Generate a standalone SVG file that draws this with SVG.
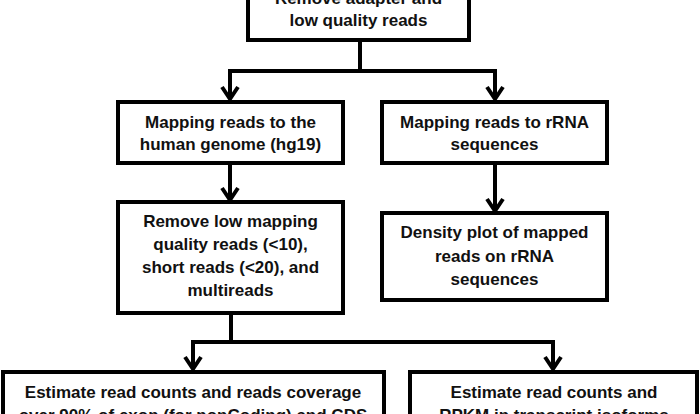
<svg xmlns="http://www.w3.org/2000/svg" width="700" height="414" viewBox="0 0 700 414">
<style>
.box{fill:#fff;stroke:#000;stroke-width:4}
.t{font-family:"Liberation Sans",Arial,sans-serif;font-weight:bold;font-size:17px;fill:#111;text-anchor:middle}
.c{fill:none;stroke:#000;stroke-width:4;stroke-linejoin:miter}
.ah{fill:none;stroke:#000;stroke-width:4;stroke-linejoin:miter}
</style>
<defs>
<path id="arr" class="ah" d="M-8,-13 L0,-1 L8,-13"/>
</defs>
<rect width="700" height="414" fill="#fff"/>
<g id="connectors">
<path class="c" d="M360,40 V71"/>
<path class="c" d="M230,99 V71 H495 V99"/>
<use href="#arr" x="230" y="100"/>
<use href="#arr" x="495" y="100"/>
<path class="c" d="M230,163 V200"/>
<use href="#arr" x="230" y="201"/>
<path class="c" d="M495,163 V211"/>
<use href="#arr" x="495" y="212"/>
<path class="c" d="M231,313 V342"/>
<path class="c" d="M193,369 V342 H553 V369"/>
<use href="#arr" x="193" y="370"/>
<use href="#arr" x="553" y="370"/>
</g>
<g id="n1">
<rect class="box" x="248" y="-30" width="221" height="70"/>
<text class="t" x="358.5" y="4">Remove adapter and</text>
<text class="t" x="358.5" y="26">low quality reads</text>
</g>
<g id="n2">
<rect class="box" x="118" y="102" width="225" height="61"/>
<text class="t" x="230.5" y="128">Mapping reads to the</text>
<text class="t" x="230.5" y="150">human genome (hg19)</text>
</g>
<g id="n3">
<rect class="box" x="382" y="102" width="225" height="61"/>
<text class="t" x="494.5" y="128">Mapping reads to rRNA</text>
<text class="t" x="494.5" y="150">sequences</text>
</g>
<g id="n4">
<rect class="box" x="118" y="202" width="225" height="111"/>
<text class="t" x="230.5" y="227">Remove low mapping</text>
<text class="t" x="230.5" y="250">quality reads (&lt;10),</text>
<text class="t" x="230.5" y="273">short reads (&lt;20), and</text>
<text class="t" x="230.5" y="296">multireads</text>
</g>
<g id="n5">
<rect class="box" x="382" y="213" width="225" height="87"/>
<text class="t" x="494.5" y="238">Density plot of mapped</text>
<text class="t" x="494.5" y="262">reads on rRNA</text>
<text class="t" x="494.5" y="285">sequences</text>
</g>
<g id="n6">
<rect class="box" x="3" y="372" width="381" height="90"/>
<text class="t" x="193" y="398">Estimate read counts and reads coverage</text>
<text class="t" x="193" y="421">over 90% of exon (for nonCoding) and CDS</text>
</g>
<g id="n7">
<rect class="box" x="410" y="372" width="287" height="90"/>
<text class="t" x="554" y="398">Estimate read counts and</text>
<text class="t" x="554" y="421">RPKM in transcript isoforms</text>
</g>
</svg>
